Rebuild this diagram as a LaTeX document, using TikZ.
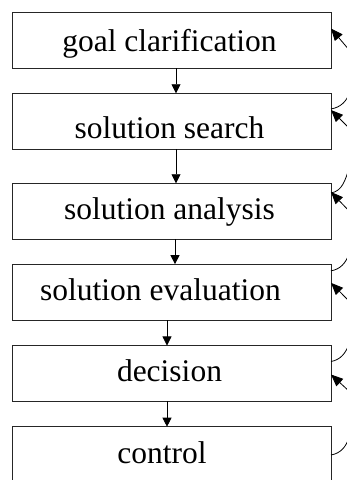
\documentclass[tikz,border=0pt]{standalone}
\usepackage{fontspec}
\setmainfont{Liberation Serif}
\usetikzlibrary{arrows.meta}

\tikzset{
  stage/.style={draw=black!85, line width=0.9pt, minimum width=319pt, minimum height=56pt,
                inner sep=0pt, outer sep=0pt},
  caption/.style={anchor=base, inner sep=0pt, font=\fontsize{31.5}{36}\selectfont},
  flow/.style={line width=0.8pt, -{Triangle[length=9pt,width=9pt]}},
  back/.style={line width=0.8pt, -{Triangle[length=12pt,width=10pt]}},
  loop/.style={line width=0.8pt}
}

\begin{document}
\begin{tikzpicture}[x=1pt,y=1pt]
  \clip (0,0) rectangle (347,480);

  % process stages
  \node[stage] (b1) at (171.5,439.7) {};
  \node[stage] (b2) at (171.5,358.7) {};
  \node[stage] (b3) at (171.5,268.7) {};
  \node[stage] (b4) at (171.5,187.85) {};
  \node[stage, minimum height=55.7pt] (b5) at (171.5,106.65) {};
  \node[stage] (b6) at (171.5,25.3) {};

  % stage names
  \node[caption] (t1) at (169.5,428.3) {goal clarification};
  \node[caption] (t2) at (169.5,341.7) {solution search};
  \node[caption] (t3) at (169.5,260) {solution analysis};
  \node[caption] (t4) at (160.5,179.3) {solution evaluation};
  \node[caption] (t5) at (169.5,98.3) {decision};
  \node[caption] (t6) at (162,16.7) {control};

  % forward flow
  \draw[flow] ([xshift=4.5pt]b1.south) -- ([xshift=4.5pt]b2.north);
  \draw[flow] ([xshift=4.5pt]b2.south) -- ([xshift=4.5pt]b3.north);
  \draw[flow] ([xshift=3.5pt]b3.south) -- ([xshift=3.5pt]b4.north);
  \draw[flow] ([xshift=-4.5pt]b4.south) -- ([xshift=-4.5pt]b5.north);
  \draw[flow] ([xshift=-4.5pt]b5.south) -- ([xshift=-4.5pt]b6.north);

  % outgoing feedback loops (leave the frame on the right)
  \coordinate (o2) at (350,388);
  \coordinate (o3) at (349,311);
  \coordinate (o4) at (349,226);
  \coordinate (o5) at (349,136);
  \coordinate (o6) at (349,42);
  \draw[loop] ([yshift=-15.7pt]b2.north east) to[out=10,in=-110] (o2);
  \draw[loop] ([yshift=-9.7pt]b3.north east) to[out=10,in=-110] (o3);
  \draw[loop] ([yshift=-6.7pt]b4.north east) to[out=10,in=-110] (o4);
  \draw[loop] ([yshift=-16pt]b5.north east) to[out=10,in=-110] (o5);
  \draw[loop] ([yshift=-28.3pt]b6.north east) to[out=10,in=-110] (o6);

  % incoming feedback arrows
  \coordinate (i1) at (350,429);
  \coordinate (i2) at (350,351);
  \coordinate (i3) at (350,268);
  \coordinate (i4) at (350,178);
  \coordinate (i5) at (350,88);
  \draw[back] (i1) -- ([yshift=-16.2pt]b1.north east);
  \draw[back] (i2) -- ([yshift=-16.7pt]b2.north east);
  \draw[back] (i3) -- ([yshift=-8.7pt]b3.north east);
  \draw[back] (i4) -- ([yshift=-18.7pt]b4.north east);
  \draw[back] (i5) -- ([yshift=-29pt]b5.north east);
\end{tikzpicture}
\end{document}
